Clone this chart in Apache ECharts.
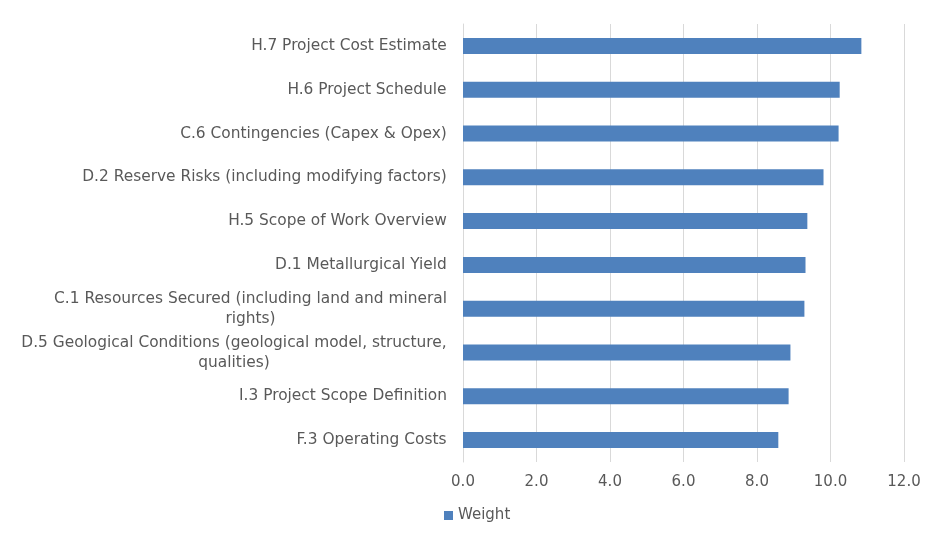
<!DOCTYPE html>
<html>
<head>
<meta charset="utf-8">
<script src="https://cdn.jsdelivr.net/npm/echarts@6/dist/echarts.min.js"></script>
<style>html,body{margin:0;padding:0;background:#fff}#c{width:949px;height:548px}</style>
</head>
<body>
<div id="c"></div>
<script>
const categories = [
  "H.7 Project Cost Estimate",
  "H.6 Project Schedule",
  "C.6 Contingencies (Capex & Opex)",
  "D.2 Reserve Risks (including modifying factors)",
  "H.5 Scope of Work Overview",
  "D.1 Metallurgical Yield",
  "C.1 Resources Secured (including land and mineral\nrights)",
  "D.5 Geological Conditions (geological model, structure,\nqualities)",
  "I.3 Project Scope Definition",
  "F.3 Operating Costs"
];
const weightValues = [10.84, 10.25, 10.22, 9.81, 9.37, 9.32, 9.29, 8.91, 8.86, 8.58];
const xTicks = [0, 2, 4, 6, 8, 10, 12];
const seriesName = "Weight";

const font = "DejaVu Sans";
const fontSize = 15;
const labelFontSize = 15.4;
const textColor = '#595959';

// rich styles so wrapped lines are centred under each other (block right-aligned)
const ctx = document.createElement('canvas').getContext('2d');
ctx.font = labelFontSize + 'px "' + font + '"';
const rich = {};
categories.forEach((c, i) => {
  const w = Math.max(...c.split('\n').map(l => ctx.measureText(l).width));
  rich['l' + i] = {width: Math.ceil(w), align: 'center', fontFamily: font, fontSize: labelFontSize, color: textColor, lineHeight: 20};
});

const chart = echarts.init(document.getElementById('c'), null, {renderer: 'canvas'});
chart.setOption({
  animation: false,
  grid: {left: 463, right: 45, top: 24, bottom: 86, containLabel: false},
  legend: {
    top: 503, left: 439,
    data: [seriesName],
    icon: 'rect', itemWidth: 9, itemHeight: 9,
    textStyle: {color: textColor, fontFamily: font, fontSize: fontSize}
  },
  xAxis: {
    type: 'value', min: xTicks[0], max: xTicks[xTicks.length-1], interval: 2,
    axisLine: {show: false}, axisTick: {show: false},
    splitLine: {lineStyle: {color: '#d9d9d9', width: 1}},
    axisLabel: {color: textColor, fontFamily: font, fontSize: fontSize, margin: 13,
      formatter: v => v.toFixed(1)}
  },
  yAxis: {
    type: 'category', data: categories, inverse: true,
    axisLine: {show: true, lineStyle: {color: '#d9d9d9'}},
    axisTick: {show: false},
    axisLabel: {
      margin: 16, align: 'right', rich: rich,
      formatter: (v, idx) => v.split('\n').map(l => '{l' + idx + '|' + l + '}').join('\n')
    }
  },
  series: [{
    name: seriesName, type: 'bar', data: weightValues, barWidth: 16,
    itemStyle: {color: '#4f81bd'}
  }]
});
</script>
</body>
</html>
